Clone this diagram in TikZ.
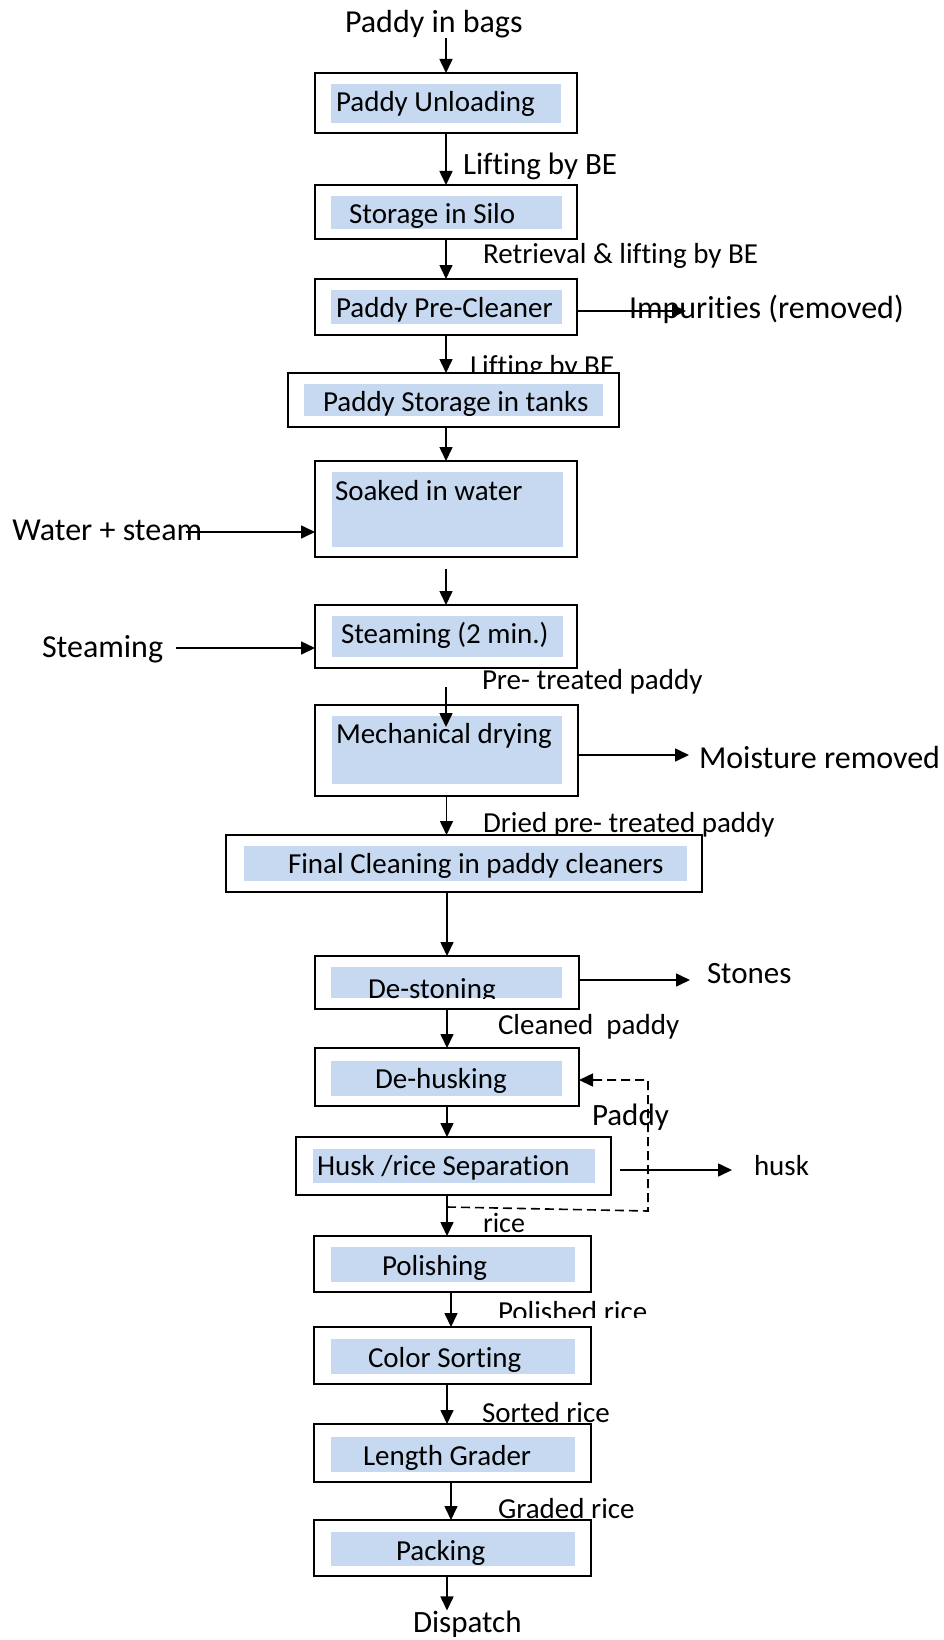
\documentclass[tikz,border=0pt]{standalone}
\usepackage{fontspec}
\setmainfont{Carlito}[Ligatures=NoCommon]
\usetikzlibrary{arrows.meta}
\definecolor{stagefillc}{RGB}{198,217,241}

\tikzset{
  stagebox/.style={draw=black, line width=2pt, fill=white, inner sep=0pt, outer sep=0pt},
  stagefill/.style={fill=stagefillc, draw=none, inner sep=0pt, outer sep=0pt},
  lbl/.style={inner sep=0pt, outer sep=0pt, anchor=base west, font=\fontsize{29}{34}\selectfont},
  midlbl/.style={lbl, font=\fontsize{31}{36}\selectfont},
  biglbl/.style={lbl, font=\fontsize{32}{38}\selectfont},
  flow/.style={line width=1.6pt, -{Triangle[length=14pt,width=13pt]}},
  loopback/.style={flow, dash pattern=on 9pt off 5pt},
}

% process stage: name, outer box (x1,y1,x2,y2), blue panel (x1,y1,x2,y2)
\newcommand\stage[9]{%
  \node[stagebox, minimum width={#4-#2}, minimum height={#5-#3}] (#1) at ({(#2+#4)/2},{(#3+#5)/2}) {};
  \node[stagefill, minimum width={#8-#6}, minimum height={#9-#7}] (#1f) at ({(#6+#8)/2},{(#7+#9)/2}) {};
}

\begin{document}
\begin{tikzpicture}[x=1pt,y=-1pt]
\useasboundingbox (0,0) rectangle (944,1640);

% ---- side labels (some are partly covered by the stage boxes) ----
\node[biglbl] (src) at (345,33) {Paddy in bags};
\node[midlbl] (l12) at (463,175) {Lifting by BE};
\node[lbl] (l23) at (483,263) {Retrieval \& lifting by BE};
\node[biglbl] (imp) at (629,318) {Impurities (removed)};
\node[lbl] (l34) at (470,375) {Lifting by BE};
\node[biglbl] (ws) at (12.5,540) {Water + steam};
\node[biglbl] (st) at (42,657) {Steaming};
\node[lbl] (l67) at (482,689) {Pre- treated paddy};
\node[biglbl] (moist) at (699,768) {Moisture removed};
\node[lbl] (l78) at (483,832) {Dried pre- treated paddy};
\node[midlbl] (stones) at (707,983) {Stones};
\node[lbl] (l910) at (498,1034) {Cleaned\ \ paddy};
\node[midlbl] (pad) at (592,1125) {Paddy};
\node[lbl] (husk) at (754,1175) {husk};
\node[lbl, font=\fontsize{28}{34}\selectfont] (rice) at (483,1232) {rice};
\begin{scope}
  \clip (480,1290) rectangle (700,1317);
  \node[lbl] (l1213) at (498,1321) {Polished rice};
\end{scope}
\node[lbl] (l1314) at (482,1422) {Sorted rice};
\node[lbl] (l1415) at (498,1518) {Graded rice};
\node[midlbl] (disp) at (413,1632) {Dispatch};

% ---- stage boxes ----
\stage{b1}{315}{73}{577}{133}{331}{84}{561}{123}
\stage{b2}{315}{185}{577}{239}{331}{196}{562}{229}
\stage{b3}{315}{279}{577}{335}{331}{290}{562}{324}
\stage{b4}{288}{373}{619}{427}{304}{384}{603}{416}
\stage{b5}{315}{461}{577}{557}{332}{472}{563}{547}
\stage{b6}{315}{605}{577}{668}{332}{616}{563}{657}
\stage{b7}{315}{705}{578}{796}{332}{716}{562}{784}
\stage{b8}{226}{835}{702}{892}{244}{846}{687}{881}
\stage{b9}{315}{956}{579}{1009}{331}{967}{562}{998}
\stage{b10}{315}{1048}{579}{1106}{331}{1061}{562}{1096}
\stage{b11}{296}{1137}{611}{1195}{313}{1149}{595}{1183}
\stage{b12}{314}{1236}{591}{1292}{331}{1247}{575}{1282}
\stage{b13}{314}{1327}{591}{1384}{331}{1339}{575}{1374}
\stage{b14}{314}{1424}{591}{1482}{331}{1437}{575}{1472}
\stage{b15}{314}{1520}{591}{1576}{331}{1532}{575}{1566}

% ---- stage captions ----
\node[lbl] (b1t) at (336,112) {Paddy Unloading};
\node[lbl] (b2t) at (349,223) {Storage in Silo};
\node[lbl] (b3t) at (336,317) {Paddy Pre-Cleaner};
\node[lbl] (b4t) at (323,411) {Paddy Storage in tanks};
\node[lbl] (b5t) at (335,500) {Soaked in water};
\node[lbl] (b6t) at (341,643) {Steaming (2 min.)};
\node[lbl] (b7t) at (336,743) {Mechanical drying};
\node[lbl] (b8t) at (288,873) {Final Cleaning in paddy cleaners};
\begin{scope}
  \clip (331,967) rectangle (562,998);
  \node[lbl] (b9t) at (368,998) {De-stoning};
\end{scope}
\node[lbl] (b10t) at (375,1088) {De-husking};
\node[lbl] (b11t) at (317,1175) {Husk /rice Separation};
\node[lbl] (b12t) at (382,1275) {Polishing};
\node[lbl] (b13t) at (368,1367) {Color Sorting};
\node[lbl] (b14t) at (363,1465) {Length Grader};
\node[lbl] (b15t) at (396,1560) {Packing};

% ---- free ends of connectors ----
\coordinate (c56) at (446,569);
\coordinate (c67a) at (446,687);
\coordinate (c67b) at (446,727);
\coordinate (impTip) at (686,311);
\coordinate (wsStart) at (186,532);
\coordinate (stStart) at (176,648);
\coordinate (moistTip) at (689,755);
\coordinate (stonesTip) at (690,980);
\coordinate (huskStart) at (620,1170);
\coordinate (huskTip) at (732,1170);
\coordinate (fbA) at (447,1207);
\coordinate (fbB) at (648,1211);
\coordinate (fbC) at (648,1080);

% ---- main flow ----
\draw[flow] (src.south -| b1.north) -- (b1.north);
\draw[flow] (b1.south) -- (b2.north);
\draw[flow] (b2.south) -- (b3.north);
\draw[flow] (b3.south) -- (b3.south |- b4.north);
\draw[flow] (b5.north |- b4.south) -- (b5.north);
\draw[flow] (c56) -- (c56 |- b6.north);
\draw[flow] (c67a) -- (c67b);
\draw[flow] (b7.south) -- (b7.south |- b8.north);
\draw[flow] (b9.north |- b8.south) -- (b9.north);
\draw[flow] (b9.south) -- (b10.north);
\draw[flow] (b10.south) -- (b10.south |- b11.north);
\draw[flow] (b10.south |- b11.south) -- (b10.south |- b12.north);
\draw[flow] ([xshift=-1.5pt]b12.south) -- ([xshift=-1.5pt]b13.north);
\draw[flow] ([xshift=-5.5pt]b13.south) -- ([xshift=-5.5pt]b14.north);
\draw[flow] ([xshift=-1.5pt]b14.south) -- ([xshift=-1.5pt]b15.north);
\draw[flow] ([xshift=-5.5pt]b15.south) -- ([xshift=-5.5pt]b15.south |- disp.north);

% ---- side streams ----
\draw[flow] (b3.east |- impTip) -- (impTip);
\draw[flow] (wsStart) -- (wsStart -| b5.west);
\draw[flow] (stStart) -- (stStart -| b6.west);
\draw[flow] (b7.east |- moistTip) -- (moistTip);
\draw[flow] (b9.east |- stonesTip) -- (stonesTip);
\draw[flow] (huskStart) -- (huskTip);

% ---- unhusked paddy returned to de-husking ----
\draw[loopback] (fbA) -- (fbB) -- (fbC) -- (b10.east |- fbC);
\end{tikzpicture}
\end{document}
